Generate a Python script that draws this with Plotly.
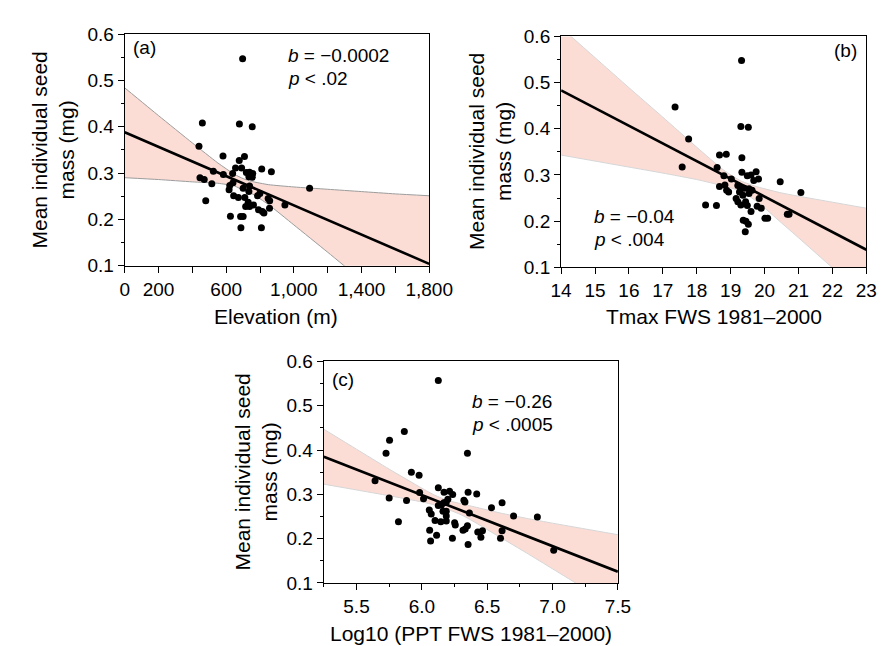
import plotly.graph_objects as go

# ---- panel (a): elevation ----
elev = [697, 459, 678, 754, 439, 581, 677, 708, 655, 691, 719, 738, 757, 734, 754, 810, 867, 524,
        583, 638, 445, 470, 515, 640, 621, 617, 700, 738, 734, 644, 672, 710, 785, 799, 848, 857,
        730, 715, 738, 761, 791, 814, 823, 856, 947, 479, 625, 685, 700, 687, 808, 1093]
mass_a = [0.547, 0.408, 0.406, 0.400, 0.358, 0.337, 0.327, 0.336, 0.311, 0.311, 0.301, 0.302,
          0.299, 0.292, 0.291, 0.309, 0.303, 0.304, 0.297, 0.299, 0.290, 0.286, 0.277, 0.279,
          0.273, 0.264, 0.267, 0.272, 0.260, 0.251, 0.247, 0.247, 0.251, 0.256, 0.245, 0.240,
          0.237, 0.228, 0.228, 0.231, 0.221, 0.217, 0.214, 0.224, 0.231, 0.240, 0.207, 0.206,
          0.206, 0.182, 0.182, 0.267]
fit_a_x = [0, 1800]
fit_a_y = [0.388, 0.104]
band_a_x = [0, 200, 400, 550, 650, 700, 750, 850, 1000, 1200, 1400, 1600, 1800]
band_a_hi = [0.484, 0.424, 0.365, 0.322, 0.297, 0.288, 0.282, 0.275, 0.270, 0.265, 0.260, 0.255, 0.251]
band_a_lo = [0.290, 0.286, 0.281, 0.278, 0.272, 0.263, 0.256, 0.232, 0.188, 0.129, 0.069, 0.010, -0.049]
ticks_a = [0, 200, 400, 600, 800, 1000, 1200, 1400, 1600, 1800]
labels_a = ["0", "200", "", "600", "", "1,000", "", "1,400", "", "1,800"]

# ---- panel (b): Tmax ----
tmax = [19.32, 17.36, 17.76, 19.30, 19.52, 17.57, 18.67, 18.87, 19.33, 18.60, 19.33, 18.80, 19.02,
        18.67, 18.83, 18.88, 18.94, 18.26, 18.58, 19.49, 19.60, 19.75, 19.68, 19.82, 19.21, 19.30,
        19.40, 19.54, 19.63, 19.26, 19.36, 19.54, 19.16, 19.21, 19.30, 19.44, 19.49, 19.84, 19.78,
        19.90, 19.60, 19.37, 19.45, 19.52, 19.43, 20.01, 20.09, 20.46, 21.07, 20.67, 20.72]
mass_b = [0.548, 0.447, 0.378, 0.405, 0.403, 0.317, 0.343, 0.345, 0.337, 0.316, 0.306, 0.298,
          0.291, 0.275, 0.278, 0.267, 0.263, 0.235, 0.234, 0.298, 0.300, 0.307, 0.288, 0.291,
          0.277, 0.270, 0.271, 0.270, 0.267, 0.263, 0.256, 0.260, 0.249, 0.242, 0.235, 0.242,
          0.234, 0.249, 0.232, 0.228, 0.221, 0.202, 0.200, 0.193, 0.177, 0.206, 0.206, 0.285,
          0.262, 0.215, 0.215]
fit_b_x = [14, 23]
fit_b_y = [0.483, 0.138]
band_b_x = [14, 15, 16, 17, 18, 18.8, 19.3, 19.8, 20.5, 21, 22, 23]
band_b_hi = [0.619, 0.554, 0.489, 0.425, 0.360, 0.310, 0.287, 0.274, 0.261, 0.254, 0.241, 0.228]
band_b_lo = [0.343, 0.330, 0.317, 0.304, 0.290, 0.276, 0.265, 0.241, 0.196, 0.164, 0.099, 0.035]

# ---- panel (c): log10 PPT ----
ppt = [6.126, 5.866, 5.753, 5.726, 6.349, 5.920, 5.979, 5.642, 6.126, 6.170, 6.212, 6.236, 6.354,
       6.420, 5.983, 5.750, 5.883, 6.013, 6.199, 6.187, 6.322, 6.330, 6.126, 6.150, 6.168, 6.057,
       6.072, 6.162, 6.187, 6.364, 6.533, 6.614, 6.702, 6.884, 6.101, 6.145, 6.187, 6.187, 5.821,
       6.251, 6.256, 6.315, 6.332, 6.349, 6.428, 6.464, 6.614, 6.060, 6.113, 6.067, 6.234, 6.354,
       6.452, 6.602, 7.009]
mass_c = [0.557, 0.442, 0.422, 0.393, 0.393, 0.350, 0.343, 0.331, 0.315, 0.305, 0.307, 0.300,
          0.305, 0.301, 0.304, 0.292, 0.286, 0.290, 0.289, 0.283, 0.287, 0.283, 0.275, 0.276,
          0.281, 0.265, 0.256, 0.262, 0.262, 0.258, 0.270, 0.281, 0.251, 0.249, 0.241, 0.238,
          0.251, 0.240, 0.238, 0.236, 0.231, 0.219, 0.222, 0.229, 0.215, 0.218, 0.218, 0.219,
          0.208, 0.195, 0.201, 0.187, 0.203, 0.201, 0.174]
fit_c_x = [5.25, 7.5]
fit_c_y = [0.385, 0.1255]
band_c_x = [5.25, 5.5, 5.75, 6.0, 6.1, 6.2, 6.3, 6.4, 6.6, 6.8, 7.0, 7.25, 7.5]
band_c_hi = [0.447, 0.402, 0.357, 0.314, 0.298, 0.286, 0.279, 0.272, 0.258, 0.246, 0.235, 0.222, 0.209]
band_c_lo = [0.323, 0.310, 0.297, 0.283, 0.276, 0.266, 0.254, 0.238, 0.203, 0.168, 0.132, 0.087, 0.042]

FONT = "Liberation Sans, Arial, Helvetica, sans-serif"
PINK = "#fbddd6"

fig = go.Figure()


def add_panel(n, xs, ys, fx, fy, bx, bhi, blo, edge):
    xa, ya = ("x", "y") if n == 1 else ("x%d" % n, "y%d" % n)
    fig.add_trace(go.Scatter(x=bx, y=blo, mode="lines", line=dict(color=edge, width=1, shape="spline", smoothing=0.5),
                             xaxis=xa, yaxis=ya, hoverinfo="skip"))
    fig.add_trace(go.Scatter(x=bx, y=bhi, mode="lines", fill="tonexty", fillcolor=PINK,
                             line=dict(color=edge, width=1, shape="spline", smoothing=0.5),
                             xaxis=xa, yaxis=ya, hoverinfo="skip"))
    fig.add_trace(go.Scatter(x=fx, y=fy, mode="lines", line=dict(color="black", width=2.6),
                             xaxis=xa, yaxis=ya))
    fig.add_trace(go.Scatter(x=xs, y=ys, mode="markers", marker=dict(color="black", size=7),
                             xaxis=xa, yaxis=ya))


add_panel(1, elev, mass_a, fit_a_x, fit_a_y, band_a_x, band_a_hi, band_a_lo, "#9c9c9c")
add_panel(2, tmax, mass_b, fit_b_x, fit_b_y, band_b_x, band_b_hi, band_b_lo, "#d6d6d6")
add_panel(3, ppt, mass_c, fit_c_x, fit_c_y, band_c_x, band_c_hi, band_c_lo, "#d6d6d6")

axis_common = dict(showline=True, mirror=True, linecolor="black", linewidth=1.2, showgrid=False,
                   zeroline=False, ticks="outside", ticklen=6, tickcolor="black", tickwidth=1,
                   tickfont=dict(family=FONT, size=19, color="black"))
yaxis_common = dict(axis_common, range=[0.1, 0.6], tickvals=[0.1, 0.2, 0.3, 0.4, 0.5, 0.6],
                    ticktext=["0.1", "0.2", "0.3", "0.4", "0.5", "0.6"],
                    minor=dict(ticks="outside", ticklen=3, dtick=0.05, tick0=0.1, tickcolor="black", showgrid=False))

fig.update_layout(
    width=891, height=646, autosize=False, showlegend=False,
    margin=dict(l=0, r=0, t=0, b=0),
    paper_bgcolor="white", plot_bgcolor="white",
    xaxis=dict(axis_common, domain=[0.1235, 0.4792], range=[0, 1800], tickvals=ticks_a, ticktext=labels_a,
               anchor="y"),
    yaxis=dict(yaxis_common, domain=[0.6037, 0.9742], anchor="x"),
    xaxis2=dict(axis_common, domain=[0.6333, 0.9899], range=[14, 23], dtick=1, tick0=14, anchor="y2"),
    yaxis2=dict(yaxis_common, domain=[0.6011, 0.9706], anchor="x2"),
    xaxis3=dict(axis_common, domain=[0.3561, 0.6996], range=[5.25, 7.5], tickvals=[5.5, 6.0, 6.5, 7.0, 7.5],
                ticktext=["5.5", "6.0", "6.5", "7.0", "7.5"], anchor="y3",
                minor=dict(ticks="outside", ticklen=3, dtick=0.25, tick0=5.25, tickcolor="black", showgrid=False)),
    yaxis3=dict(yaxis_common, domain=[0.0960, 0.4505], anchor="x3"),
)

tf = dict(family=FONT, size=19, color="black")
af = dict(family=FONT, size=21, color="black")
notes = [
    ("x", "y", 40, 0.572, "(a)", "left"),
    ("x", "y", 956, 0.553, "<i>b</i> = \u22120.0002", "left"),
    ("x", "y", 956, 0.504, "<i>p</i> < .02", "left"),
    ("x2", "y2", 22.79, 0.570, "(b)", "right"),
    ("x2", "y2", 14.92, 0.209, "<i>b</i> = \u22120.04", "left"),
    ("x2", "y2", 14.92, 0.160, "<i>p</i> < .004", "left"),
    ("x3", "y3", 5.294, 0.560, "(c)", "left"),
    ("x3", "y3", 6.365, 0.509, "<i>b</i> = \u22120.26", "left"),
    ("x3", "y3", 6.365, 0.458, "<i>p</i> < .0005", "left"),
]
for xr, yr, x, y, t, anc in notes:
    fig.add_annotation(xref=xr, yref=yr, x=x, y=y, text=t, showarrow=False, xanchor=anc,
                       yanchor="middle", font=tf)

ytitle = "Mean individual seed<br>mass (mg)"
for x, y in [(0.0393, 0.789), (0.5494, 0.786), (0.2772, 0.2732)]:
    fig.add_annotation(xref="paper", yref="paper", x=x, y=y, text=ytitle, textangle=-90,
                       showarrow=False, xanchor="center", yanchor="middle", font=af)

for x, y, t in [(0.3008, 0.5232, "Elevation (m)"), (0.8114, 0.5232, "Tmax FWS 1981\u20132000"),
                (0.5275, 0.0155, "Log10 (PPT FWS 1981\u20132000)")]:
    fig.add_annotation(xref="paper", yref="paper", x=x, y=y, text=t, showarrow=False,
                       xanchor="center", yanchor="middle", font=af)

fig.write_html("out.html")
